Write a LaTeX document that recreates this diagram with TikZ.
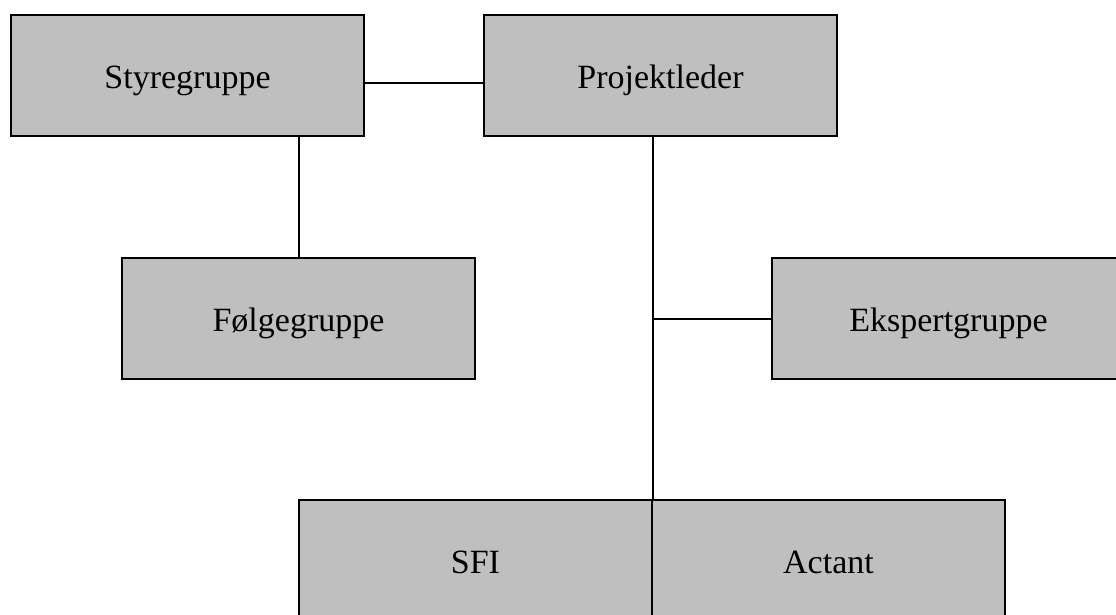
\documentclass[tikz,border=0pt]{standalone}
\usepackage{fontspec}
\setmainfont{Liberation Serif}
\usepackage{tikz}
\definecolor{cgray}{rgb}{0.75, 0.75, 0.75}

\tikzset{
  orgbox/.style={draw, line width=2pt, fill=cgray, anchor=north west, minimum width=353pt, minimum height=121pt, inner sep=0pt, text height=26pt, text depth=0pt, font=\fontsize{34}{40}\selectfont},
  link/.style={line width=2pt}
}

\begin{document}
\begin{tikzpicture}[x=1pt, y=-1pt]

  \useasboundingbox (0, 0) rectangle (1116, 614);
  \clip (0, 0) rectangle (1116, 614);

  \node [orgbox] (sty) at (10, 14) {Styregruppe};
  \node [orgbox] (proj) at (483, 14) {Projektleder};
  \node [orgbox] (folge) at (121, 257) {Følgegruppe};
  \node [orgbox] (ekspert) at (771, 257) {Ekspertgruppe};
  \node [orgbox] (sfi) at (298, 499) {SFI};
  \node [orgbox] (actant) at (651, 499) {Actant};

  \draw [link] ([yshift=-7.5pt]sty.east) -- ([yshift=-7.5pt]proj.west);
  \draw [link] (folge.north |- sty.south) -- (folge.north);
  \draw [link] (sfi.north east |- proj.south) -- (sfi.north east);
  \draw [link] (ekspert.west) -- (ekspert.west -| sfi.north east);

\end{tikzpicture}
\end{document}
